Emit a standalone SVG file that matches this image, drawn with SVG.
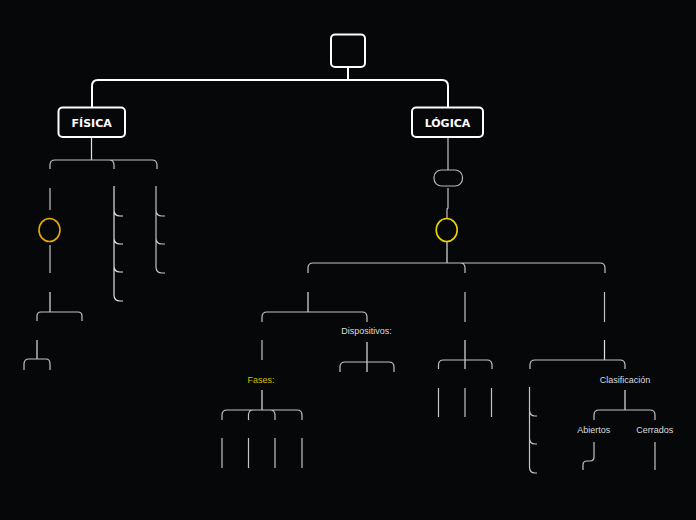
<svg xmlns="http://www.w3.org/2000/svg" width="696" height="520" viewBox="0 0 696 520">
<style>
.bg{fill:#060709}
.main{fill:none;stroke:#ffffff;stroke-width:2}
.box{fill:#060709;stroke:#ffffff;stroke-width:2}
.ln{fill:none;stroke:#c4c4c4;stroke-width:1.2}
.lnw{fill:none;stroke:#e2e2e2;stroke-width:1.2}
.pill{fill:#060709;stroke:#b8b8b8;stroke-width:1.2}
.bold{font-family:"DejaVu Sans",Verdana,sans-serif;font-weight:bold;font-size:11px;fill:#ffffff;text-anchor:middle}
.lbl{font-family:"Liberation Sans",Arial,sans-serif;font-size:9px;fill:#dcdcdc;text-anchor:middle}
.yel{fill:#d6be00}
</style>
<rect class="bg" x="0" y="0" width="696" height="520"/>
<g id="connectors">
<path class="main" d="M348,67 V80 M92,108 V86 Q92,80 98,80 H442 Q448,80 448,86 V108"/>
<!-- FISICA -->
<path class="lnw" d="M91.5,137 V160"/>
<path class="ln" d="M50,169 V165 Q50,160 55,160 H152 Q157,160 157,165 V169 M109,160 Q114,160 114,165 V169"/>
<path class="ln" d="M50,188 V210 M50,245 V273"/>
<path class="lnw" d="M50,292 V312"/>
<path class="ln" d="M37,321 V316 Q37,312 41,312 H78 Q82,312 82,316 V321"/>
<path class="lnw" d="M37,340 V359"/>
<path class="ln" d="M24,370 V364 Q24,359 29,359 H46 Q50,359 50,364 V370"/>
<path class="lnw" d="M114,186 V295 Q114,301 120,301 H123 M114,210 Q114,216 120,216 H123 M114,238 Q114,244 120,244 H123 M114,266 Q114,272 120,272 H123"/>
<path class="ln" d="M156,186 V267 Q156,273 162,273 H165 M156,210 Q156,216 162,216 H165 M156,238 Q156,244 162,244 H165"/>
<!-- LOGICA -->
<path class="ln" d="M448,137 V170 M448,188 V208 L447,209 V218"/>
<path class="lnw" d="M447,242 V263"/>
<path class="ln" d="M308,273 V268 Q308,263 313,263 H600 Q605,263 605,268 V273 M460,263 Q465,263 465,268 V273"/>
<path class="lnw" d="M308,292 V312"/>
<path class="ln" d="M262,322 V317 Q262,312 267,312 H362 Q367,312 367,317 V322"/>
<path class="lnw" d="M367,342 V372"/>
<path class="ln" d="M340,372 V367 Q340,362 345,362 H389 Q394,362 394,367 V372"/>
<path class="ln" d="M262,340 V360"/>
<path class="lnw" d="M262,390 V410"/>
<path class="ln" d="M222,420 V415 Q222,410 227,410 H297 Q302,410 302,415 V420 M253.5,410 Q248.5,410 248.5,415 V420 M270,410 Q275,410 275,415 V420"/>
<path class="ln" d="M222,438 V468 M248.5,438 V468 M275,438 V468 M302,438 V468"/>
<path class="ln" d="M465,292 V322 M604.5,292 V322"/>
<path class="lnw" d="M465,340 V369"/>
<path class="ln" d="M438.5,369 V365 Q438.5,360 443.5,360 H487 Q492,360 492,365 V369"/>
<path class="ln" d="M438.5,388 V417 M465,388 V417 M491.5,388 V417"/>
<path class="lnw" d="M604.5,340 V360"/>
<path class="ln" d="M530,369 V365 Q530,360 535,360 H620 Q625,360 625,365 V369"/>
<path class="lnw" d="M625,390 V410"/>
<path class="ln" d="M594,420 V415 Q594,410 599,410 H650 Q655,410 655,415 V420"/>
<path class="ln" d="M594,442 V457 Q594,461 590,461 H587 Q583,461 583,465 V470 M655,442 V470"/>
<path class="ln" d="M529.5,387 V467 Q529.5,473 535,473 H537 M529.5,410 Q529.5,416 535,416 H537 M529.5,438 Q529.5,444 535,444 H537"/>
</g>
<g id="root"><rect class="box" x="331" y="34.5" width="34" height="32.5" rx="4"/></g>
<g id="fisica"><rect class="box" x="58.5" y="107.5" width="66.5" height="29.5" rx="4"/><text class="bold" x="91.7" y="127">FÍSICA</text></g>
<g id="logica"><rect class="box" x="412" y="107.5" width="71" height="29.5" rx="4"/><text class="bold" x="447.5" y="127">LÓGICA</text></g>
<g id="fisica-circle"><ellipse cx="49.5" cy="230" rx="10.5" ry="11.5" fill="none" stroke="#eaa800" stroke-width="1.6"/></g>
<g id="logica-pill"><rect class="pill" x="434" y="170" width="28.5" height="16" rx="7.5"/></g>
<g id="logica-circle"><ellipse cx="446.7" cy="230" rx="10.5" ry="11.5" fill="none" stroke="#ecd400" stroke-width="1.6"/></g>
<g id="dispositivos"><text class="lbl" x="366.5" y="334">Dispositivos:</text></g>
<g id="fases"><text class="lbl yel" x="261" y="382.5">Fases:</text></g>
<g id="clasificacion"><text class="lbl" x="625" y="382.5">Clasificación</text></g>
<g id="abiertos"><text class="lbl" x="593.7" y="433">Abiertos</text></g>
<g id="cerrados"><text class="lbl" x="654.7" y="433">Cerrados</text></g>
</svg>
